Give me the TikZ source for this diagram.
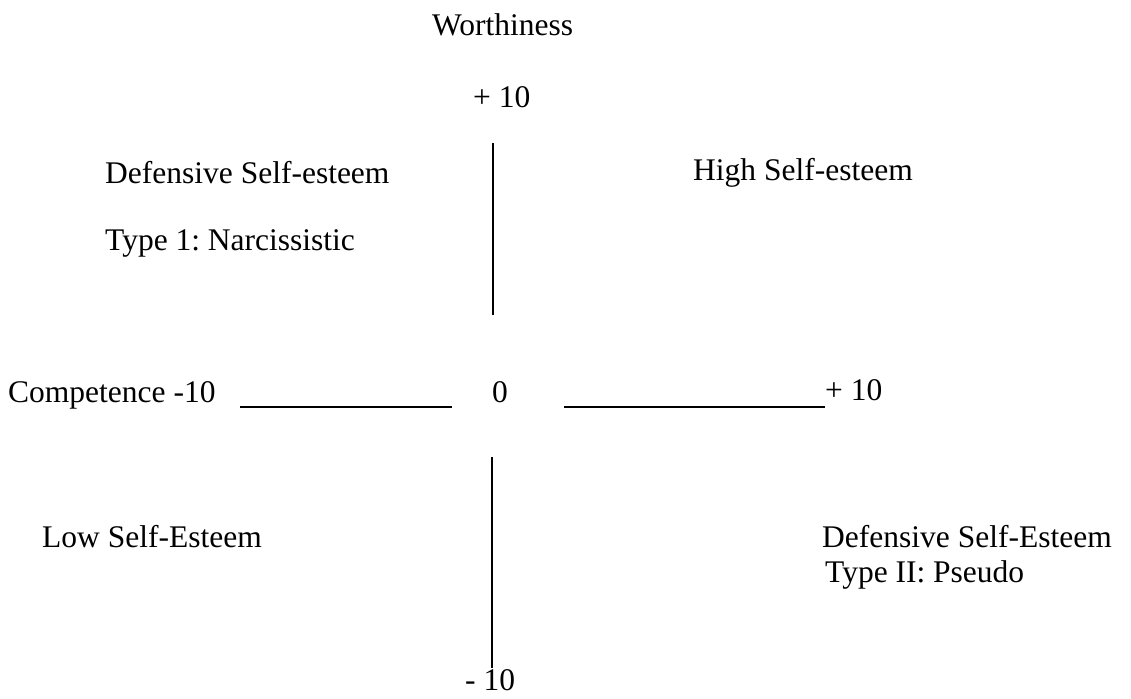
\documentclass[tikz,border=0pt]{standalone}
\usepackage{fontspec}
\setmainfont{Liberation Serif}
\frenchspacing
\begin{document}
\begin{tikzpicture}[x=1pt,y=-1pt,
  lbl/.style={anchor=base west,inner sep=0pt,font=\fontsize{31.5}{36}\selectfont},
  axisline/.style={line width=1.8pt,black}]
\useasboundingbox (0,0) rectangle (1131,698);
\node[lbl] (worth) at (432,36) {Worthiness};
\node[lbl] (ptop) at (473,108) {+ 10};
\node[lbl] (dse) at (105,183) {Defensive Self-esteem};
\node[lbl] (narc) at (105,250) {Type 1: Narcissistic};
\node[lbl] (hse) at (693,180) {High Self-esteem};
\node[lbl] (comp) at (8,402) {Competence -10};
\node[lbl] (zero) at (492,402) {0};
\node[lbl] (pright) at (825,400) {+ 10};
\node[lbl] (lse) at (42,547) {Low Self-Esteem};
\node[lbl] (dse2) at (822,547) {Defensive Self-Esteem};
\node[lbl] (pseudo) at (825,582) {Type II: Pseudo};
\node[lbl] (mbot) at (465,690) {- 10};
\coordinate (vt1) at (493,143);
\coordinate (vt2) at (493,315);
\coordinate (hl1) at (240,407);
\coordinate (hl2) at (452,407);
\coordinate (hr1) at (564,407);
\coordinate (hr2) at (825,407);
\coordinate (vb1) at (492,457);
\coordinate (vb2) at (492,668);
\draw[axisline] (vt1) -- (vt2);
\draw[axisline] (hl1) -- (hl2);
\draw[axisline] (hr1) -- (hr2);
\draw[axisline] (vb1) -- (vb2);
\end{tikzpicture}
\end{document}
